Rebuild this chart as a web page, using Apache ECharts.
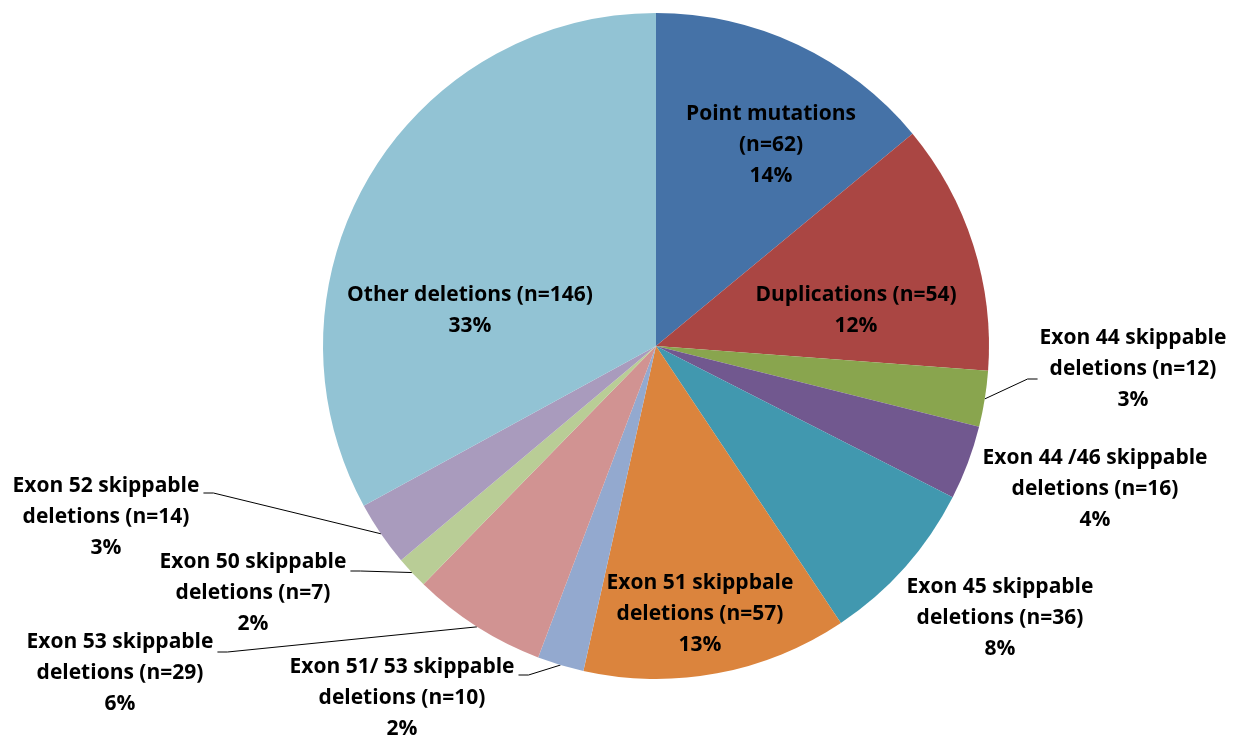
<!DOCTYPE html>
<html>
<head>
<meta charset="utf-8">
<script src="https://cdn.jsdelivr.net/npm/echarts@6/dist/echarts.min.js"></script>
<style>
  html, body { margin: 0; padding: 0; background: #fff; }
  #pie { width: 1245px; height: 736px; }
</style>
</head>
<body>
<div id="pie"></div>
<script>
// mutation classes, clockwise from 12 o'clock
var categories = [
  "Point mutations",
  "Duplications",
  "Exon 44 skippable deletions",
  "Exon 44 /46 skippable deletions",
  "Exon 45 skippable deletions",
  "Exon 51 skippbale deletions",
  "Exon 51/ 53 skippable deletions",
  "Exon 53 skippable deletions",
  "Exon 50 skippable deletions",
  "Exon 52 skippable deletions",
  "Other deletions"
];
var counts = [62, 54, 12, 16, 36, 57, 10, 29, 7, 14, 146];
var colors = ["#4572A7", "#AA4643", "#89A54E", "#71588F", "#4198AF", "#DB843D",
  "#93A9CF", "#D19392", "#B9CD96", "#A99BBD", "#92C3D4"];

// where each label block sits (centre), and which side its leader attaches on
var labelSpots = [
  { x: 771, y: 145 },
  { x: 856, y: 311 },
  { x: 1133, y: 369, line: "right", dy: 10 },
  { x: 1095, y: 489 },
  { x: 1000, y: 618 },
  { x: 700, y: 614 },
  { x: 402, y: 698, line: "left", dy: -23 },
  { x: 120, y: 673, line: "left", dy: -21 },
  { x: 253, y: 593, line: "left", dy: -22 },
  { x: 106, y: 517, line: "left", dy: -24 },
  { x: 470, y: 311 }
];

function labelText(p) {
  var n = "(n=" + p.value + ")";
  var txt;
  if (p.name.indexOf("Exon") === 0) {
    txt = p.name.replace(" deletions", "\ndeletions") + " " + n;
  } else if (p.name === "Point mutations") {
    txt = p.name + "\n" + n;
  } else {
    txt = p.name + " " + n;
  }
  return txt + "\n" + p.percent + "%";
}

var chart = echarts.init(document.getElementById("pie"));
chart.setOption({
  animation: false,
  series: [
    {
      type: "pie",
      center: [656, 346],
      radius: 333,
      startAngle: 90,
      clockwise: true,
      percentPrecision: 0,
      avoidLabelOverlap: false,
      itemStyle: { borderWidth: 0 },
      label: {
        show: true,
        position: "outside",
        formatter: labelText,
        color: "#000",
        fontFamily: "Open Sans",
        fontWeight: "bold",
        fontSize: 21,
        lineHeight: 31,
        align: "center"
      },
      labelLine: {
        show: true,
        length: 10,
        length2: 10,
        lineStyle: { color: "#000", width: 1 }
      },
      labelLayout: function (params) {
        var s = labelSpots[params.dataIndex];
        var out = { x: s.x, y: s.y, align: "center", verticalAlign: "middle" };
        if (s.line && params.labelLinePoints) {
          var w = params.labelRect.width;
          var start = params.labelLinePoints[0];
          var ex, bx;
          if (s.line === "right") {
            ex = s.x - w / 2 - 2;
            bx = ex - 10;
          } else {
            ex = s.x + w / 2 + 4;
            bx = ex + 10;
          }
          var ey = s.y + s.dy;
          out.labelLinePoints = [start, [bx, ey], [ex, ey]];
        }
        return out;
      },
      data: categories.map(function (name, i) {
        var s = labelSpots[i];
        return {
          name: name,
          value: counts[i],
          itemStyle: { color: colors[i] },
          labelLine: { show: !!s.line }
        };
      })
    }
  ]
});
</script>
</body>
</html>
